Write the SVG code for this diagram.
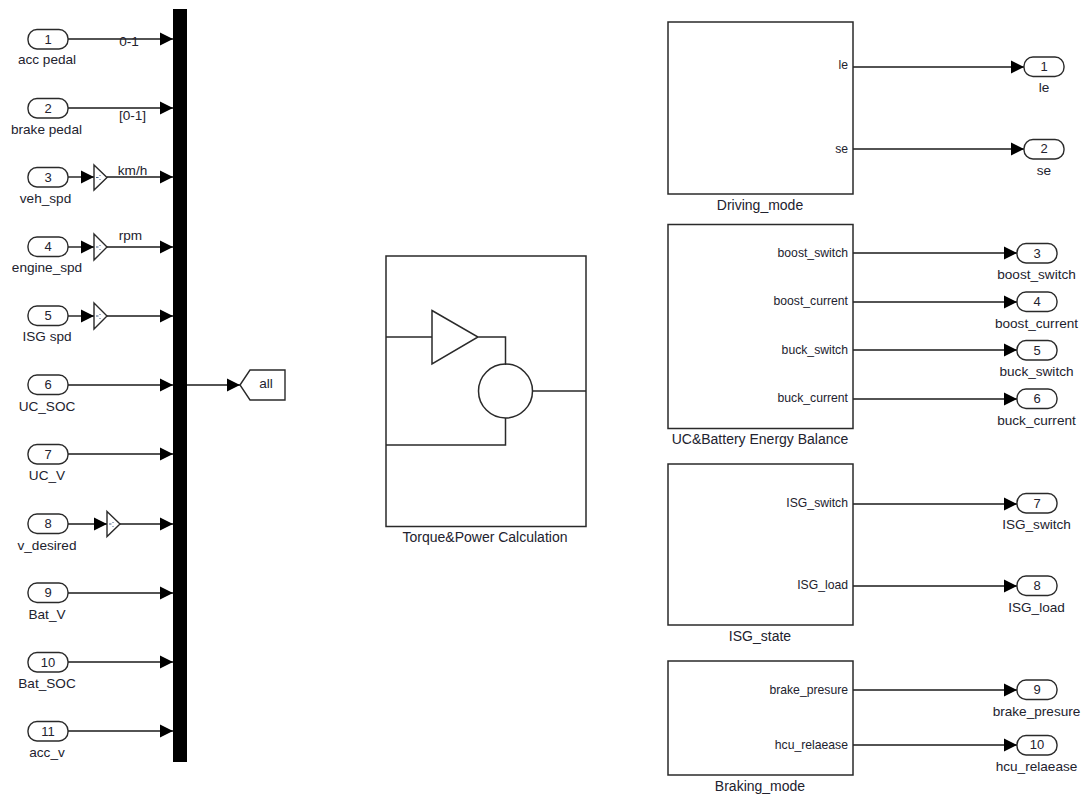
<svg xmlns="http://www.w3.org/2000/svg" width="1083" height="796" viewBox="0 0 1083 796">
<defs>
<marker id="a" markerUnits="userSpaceOnUse" markerWidth="14" markerHeight="14" refX="13" refY="7" orient="auto" overflow="visible"><path d="M0,0.500 L13,7 L0,13.500 Z" fill="#000"/></marker>
</defs>
<style>
text{font-family:"Liberation Sans",Arial,sans-serif;font-size:13.6px;fill:#22222e}
.m{text-anchor:middle}
.e{text-anchor:end;font-size:12.2px}
.n{font-size:13px}
.t{font-size:14px}
.b{fill:#fff;stroke:#2a2a2a;stroke-width:1.5}
.p{fill:#fff;stroke:#2a2a2a;stroke-width:1.4}
.l{fill:none;stroke:#2a2a2a;stroke-width:1.5}
.c{fill:none;stroke:#1a1a1a;stroke-width:1.4;marker-end:url(#a)}
.k{fill:none;stroke:#44608a;stroke-width:1}
</style>
<rect width="1083" height="796" fill="#fff"/>
<g id="connectors">
<path class="c" d="M68,39H173"/>
<path class="c" d="M68,108H173"/>
<path class="c" d="M68,177H94"/><path class="c" d="M107,177H173"/>
<path class="c" d="M68,247H94"/><path class="c" d="M107,247H173"/>
<path class="c" d="M68,316H94"/><path class="c" d="M107,316H173"/>
<path class="c" d="M68,385H173"/>
<path class="c" d="M68,454H173"/>
<path class="c" d="M68,524H107"/><path class="c" d="M120,524H173"/>
<path class="c" d="M68,593H173"/>
<path class="c" d="M68,662H173"/>
<path class="c" d="M68,731H173"/>
<path class="c" d="M187,385H240"/>
<path class="c" d="M853,67H1024"/>
<path class="c" d="M853,149H1024"/>
<path class="c" d="M853,253H1017"/>
<path class="c" d="M853,302H1017"/>
<path class="c" d="M853,350H1017"/>
<path class="c" d="M853,399H1017"/>
<path class="c" d="M853,504H1017"/>
<path class="c" d="M853,586H1017"/>
<path class="c" d="M853,690H1017"/>
<path class="c" d="M853,745H1017"/>
</g>
<g id="bus"><rect x="173" y="9" width="14" height="753" fill="#000"/></g>
<g id="sig-labels">
<text class="m" x="129" y="46">0-1</text>
<text class="m" x="132.500" y="120">[0-1]</text>
<text class="m" x="132.500" y="175">km/h</text>
<text class="m" x="130.500" y="240">rpm</text>
</g>
<g id="in1"><rect class="p" x="28" y="29.500" width="40" height="19.500" rx="9"/><text class="m n" x="48" y="43.500">1</text><text class="m" x="47" y="64">acc pedal</text></g>
<g id="in2"><rect class="p" x="28" y="98.500" width="40" height="19.500" rx="9"/><text class="m n" x="48" y="112.500">2</text><text class="m" x="46.500" y="134">brake pedal</text></g>
<g id="in3"><rect class="p" x="28" y="167.500" width="40" height="19.500" rx="9"/><text class="m n" x="48" y="181.500">3</text><text class="m" x="45.500" y="203">veh_spd</text></g>
<g id="in4"><rect class="p" x="28" y="237" width="40" height="19.500" rx="9"/><text class="m n" x="48" y="250.500">4</text><text class="m" x="47" y="272">engine_spd</text></g>
<g id="in5"><rect class="p" x="28" y="306" width="40" height="19.500" rx="9"/><text class="m n" x="48" y="320">5</text><text class="m" x="47" y="341">ISG spd</text></g>
<g id="in6"><rect class="p" x="28" y="375" width="40" height="19.500" rx="9"/><text class="m n" x="48" y="389">6</text><text class="m" x="47" y="411">UC_SOC</text></g>
<g id="in7"><rect class="p" x="28" y="444.500" width="40" height="19.500" rx="9"/><text class="m n" x="48" y="458.500">7</text><text class="m" x="47" y="480">UC_V</text></g>
<g id="in8"><rect class="p" x="28" y="514" width="40" height="19.500" rx="9"/><text class="m n" x="48" y="528">8</text><text class="m" x="47" y="550">v_desired</text></g>
<g id="in9"><rect class="p" x="28" y="583" width="40" height="19.500" rx="9"/><text class="m n" x="48" y="597">9</text><text class="m" x="47" y="619">Bat_V</text></g>
<g id="in10"><rect class="p" x="28" y="652.500" width="40" height="19.500" rx="9"/><text class="m n" x="48" y="666.500">10</text><text class="m" x="47" y="688">Bat_SOC</text></g>
<g id="in11"><rect class="p" x="28" y="721.500" width="40" height="19.500" rx="9"/><text class="m n" x="48" y="735.500">11</text><text class="m" x="47" y="757">acc_v</text></g>
<g id="gain3"><path class="p" d="M94,165 L107,177.500 L94,190 Z"/><path class="k" d="M96,177.500h2.500M100,175v1M100,179v1"/></g>
<g id="gain4"><path class="p" d="M94,234 L107,247 L94,260 Z"/><path class="k" d="M96,247h2.500M100,245v1M100,249v1"/></g>
<g id="gain5"><path class="p" d="M94,303 L107,316 L94,329 Z"/><path class="k" d="M96,316h2.500M100,314v1M100,318v1"/></g>
<g id="gain8"><path class="p" d="M107,511.500 L120,524 L107,536.500 Z"/><path class="k" d="M109,524h2.500M113,522v1M113,526v1"/></g>
<g id="goto"><path class="p" d="M240,385 L250,370 H285 V400 H250 Z"/><text class="m" x="266" y="388">all</text></g>
<g id="torque"><rect class="b" x="386" y="256" width="200" height="270.500"/>
<path class="l" d="M386,337H432M432,310.500 L478,337 L432,364 ZM478,337H505.500V365M505.500,418V445H386M532,391H586"/>
<circle class="l" cx="505.500" cy="391" r="27"/>
<text class="m t" x="485" y="542">Torque&amp;Power Calculation</text></g>
<g id="driving"><rect class="b" x="668" y="22" width="185" height="172"/><text class="e" x="848" y="69">le</text><text class="e" x="848" y="153">se</text><text class="m t" x="760" y="210">Driving_mode</text></g>
<g id="uc"><rect class="b" x="668" y="224.500" width="185" height="204"/><text class="e" x="848" y="257">boost_switch</text><text class="e" x="848" y="305">boost_current</text><text class="e" x="848" y="354">buck_switch</text><text class="e" x="848" y="402">buck_current</text><text class="m t" x="760" y="444">UC&amp;Battery Energy Balance</text></g>
<g id="isg"><rect class="b" x="668" y="464" width="185" height="161"/><text class="e" x="848" y="507">ISG_switch</text><text class="e" x="848" y="589">ISG_load</text><text class="m t" x="760" y="641">ISG_state</text></g>
<g id="braking"><rect class="b" x="668" y="661" width="185" height="114"/><text class="e" x="848" y="694">brake_presure</text><text class="e" x="848" y="749">hcu_relaease</text><text class="m t" x="760" y="791">Braking_mode</text></g>
<g id="out1"><rect class="p" x="1024" y="57" width="40" height="19.500" rx="9"/><text class="m n" x="1044" y="70.500">1</text><text class="m" x="1044" y="92">le</text></g>
<g id="out2"><rect class="p" x="1024" y="139.500" width="40" height="19.500" rx="9"/><text class="m n" x="1044" y="153">2</text><text class="m" x="1044" y="175">se</text></g>
<g id="out3"><rect class="p" x="1017" y="243.500" width="40" height="19.500" rx="9"/><text class="m n" x="1037" y="257.500">3</text><text class="m" x="1036.500" y="279">boost_switch</text></g>
<g id="out4"><rect class="p" x="1017" y="292" width="40" height="19.500" rx="9"/><text class="m n" x="1037" y="305.500">4</text><text class="m" x="1036.500" y="328">boost_current</text></g>
<g id="out5"><rect class="p" x="1017" y="340.500" width="40" height="19.500" rx="9"/><text class="m n" x="1037" y="354.500">5</text><text class="m" x="1036.500" y="376">buck_switch</text></g>
<g id="out6"><rect class="p" x="1017" y="389" width="40" height="19.500" rx="9"/><text class="m n" x="1037" y="402.500">6</text><text class="m" x="1036.500" y="425">buck_current</text></g>
<g id="out7"><rect class="p" x="1017" y="493.500" width="40" height="19.500" rx="9"/><text class="m n" x="1037" y="507.500">7</text><text class="m" x="1036.500" y="529">ISG_switch</text></g>
<g id="out8"><rect class="p" x="1017" y="576" width="40" height="19.500" rx="9"/><text class="m n" x="1037" y="589.500">8</text><text class="m" x="1036.500" y="612">ISG_load</text></g>
<g id="out9"><rect class="p" x="1017" y="680" width="40" height="19.500" rx="9"/><text class="m n" x="1037" y="694">9</text><text class="m" x="1036.500" y="716">brake_presure</text></g>
<g id="out10"><rect class="p" x="1017" y="735.500" width="40" height="19.500" rx="9"/><text class="m n" x="1037" y="749">10</text><text class="m" x="1036.500" y="771">hcu_relaease</text></g>
</svg>
